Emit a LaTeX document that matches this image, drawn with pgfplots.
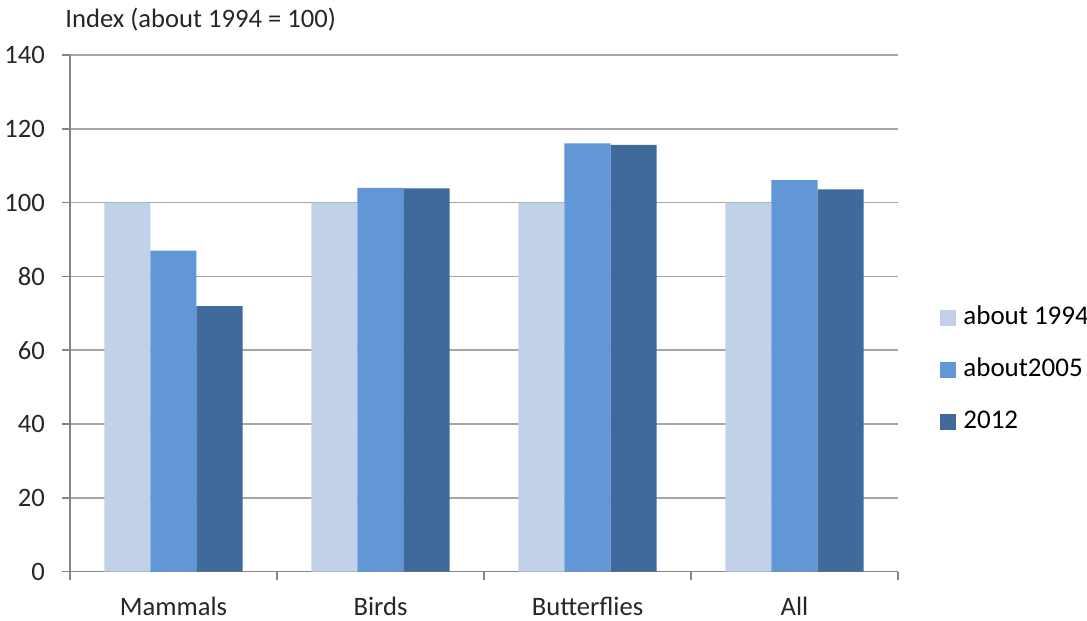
\documentclass[border=0pt]{standalone}
\usepackage{fontspec}
\setmainfont{Carlito}
\usepackage{pgfplots}
\pgfplotsset{compat=1.18}
\definecolor{cA}{RGB}{193,210,232}
\definecolor{cB}{RGB}{97,151,215}
\definecolor{cC}{RGB}{63,106,155}
\definecolor{axgray}{RGB}{134,134,134}
\definecolor{gridgray}{RGB}{166,166,166}
\begin{document}
\begin{tikzpicture}
\path[use as bounding box] (-35pt,-24.65pt) rectangle (508.5pt,285.85pt);
\begin{axis}[
  at={(0,0)}, anchor=south west,
  scale only axis,
  width=414pt, height=258.3pt,
  xmin=-0.5, xmax=3.5,
  ymin=0, ymax=140,
  ytick={0,20,...,140},
  xtick={-0.5,0.5,1.5,2.5,3.5},
  xticklabels={Mammals,Birds,Butterflies,All},
  x tick label as interval,
  tick style={axgray, line width=0.8pt},
  major tick length=4pt,
  tick align=outside,
  axis x line*=bottom,
  axis y line*=left,
  axis line style={axgray, line width=0.8pt, -},
  ymajorgrids,
  grid style={gridgray, line width=0.8pt},
  ybar=0pt,
  bar width=23pt,
  /pgf/number format/assume math mode=true,
  tick label style={font=\fontsize{13.3}{15}\selectfont, text=black!85},
  yticklabel style={xshift=-5pt},
  xticklabel style={yshift=-5pt},
  legend image code/.code={\fill[#1,draw=none] (0pt,-4pt) rectangle (8pt,4pt);},
  legend style={at={(axis description cs:1,0.39)}, anchor=west, xshift=21pt,
     draw=none, fill=none, font=\fontsize{13.5}{15}\selectfont,
     row sep=12pt, inner sep=0pt,
     nodes={inner sep=1pt, text height=9pt, text depth=3pt},
     /tikz/every odd column/.style={column sep=2.5pt}},
  legend cell align=left,
  clip=false,
]
\addplot[fill=cA, draw=none] coordinates {(0,100) (1,100) (2,100) (3,100)};
\addplot[fill=cB, draw=none] coordinates {(0,87) (1,104) (2,116.1) (3,106.1)};
\addplot[fill=cC, draw=none] coordinates {(0,72) (1,103.9) (2,115.7) (3,103.6)};
\legend{about 1994,about2005,2012}
\node[anchor=base west, inner sep=0pt, font=\fontsize{13.3}{15}\selectfont, text=black!85] at (axis description cs:0,1) [xshift=-2.5pt, yshift=14pt] {Index (about 1994 = 100)};
\end{axis}
\end{tikzpicture}
\end{document}
